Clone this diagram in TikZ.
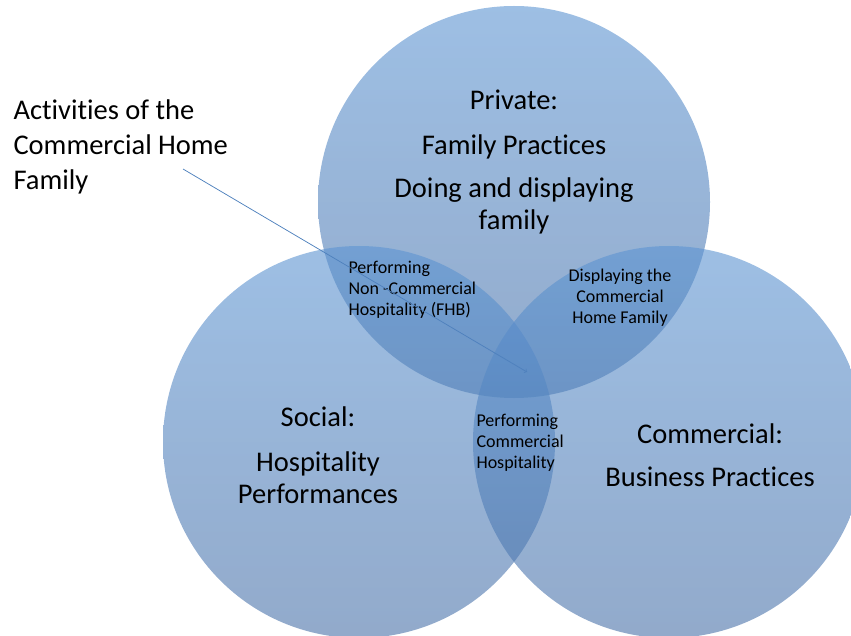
\documentclass[tikz,border=0pt]{standalone}
\usepackage{fontspec}
\setmainfont{Carlito}[Ligatures=NoCommon]
\definecolor{circtop}{RGB}{92,148,210}
\definecolor{circbot}{RGB}{73,113,168}
\definecolor{pointer}{RGB}{79,129,189}

\begin{document}
\begin{tikzpicture}[x=1pt,y=-1pt,>=to,set/.style={circle,minimum size=392pt,inner sep=0pt,top color=circtop,bottom color=circbot,fill opacity=0.6},big/.style={font=\fontsize{28.5}{32}\selectfont,align=center},small/.style={font=\fontsize{18}{21}\selectfont}]
\useasboundingbox (0,0) rectangle (851,636);
\clip (0,0) rectangle (851,636);
% the three sets
\node[set] (priv) at (514,202) {};
\node[set] (soc) at (359,442) {};
\node[set] (comm) at (669,442) {};
% set titles
\node[big] (privtxt) at (514,162) {Private:\\[13pt]Family Practices\\[11pt]Doing and displaying\\family};
\node[big] (soctxt) at (318,455) {Social:\\[13pt]Hospitality\\Performances};
\node[big] (commtxt) at (710,455) {Commercial:\\[11pt]Business Practices};
% overlaps
\node[small,align=left,anchor=west] (noncomm) at (345,290) {Performing\\Non -Commercial\\Hospitality (FHB)};
\node[small,align=center] (display) at (620,298) {Displaying the\\Commercial\\Home Family};
\node[small,align=left,anchor=west] (perfcomm) at (473,443) {Performing\\Commercial\\Hospitality};
% label and pointer
\node[align=left,anchor=west,font=\fontsize{28.5}{35}\selectfont] (activ) at (10,147) {Activities of the\\Commercial Home\\Family};
\coordinate (tail) at (183,169);
\coordinate (tip) at (527,372);
\draw[->,color=pointer,line width=0.75pt] (tail) -- (tip);
\end{tikzpicture}
\end{document}
